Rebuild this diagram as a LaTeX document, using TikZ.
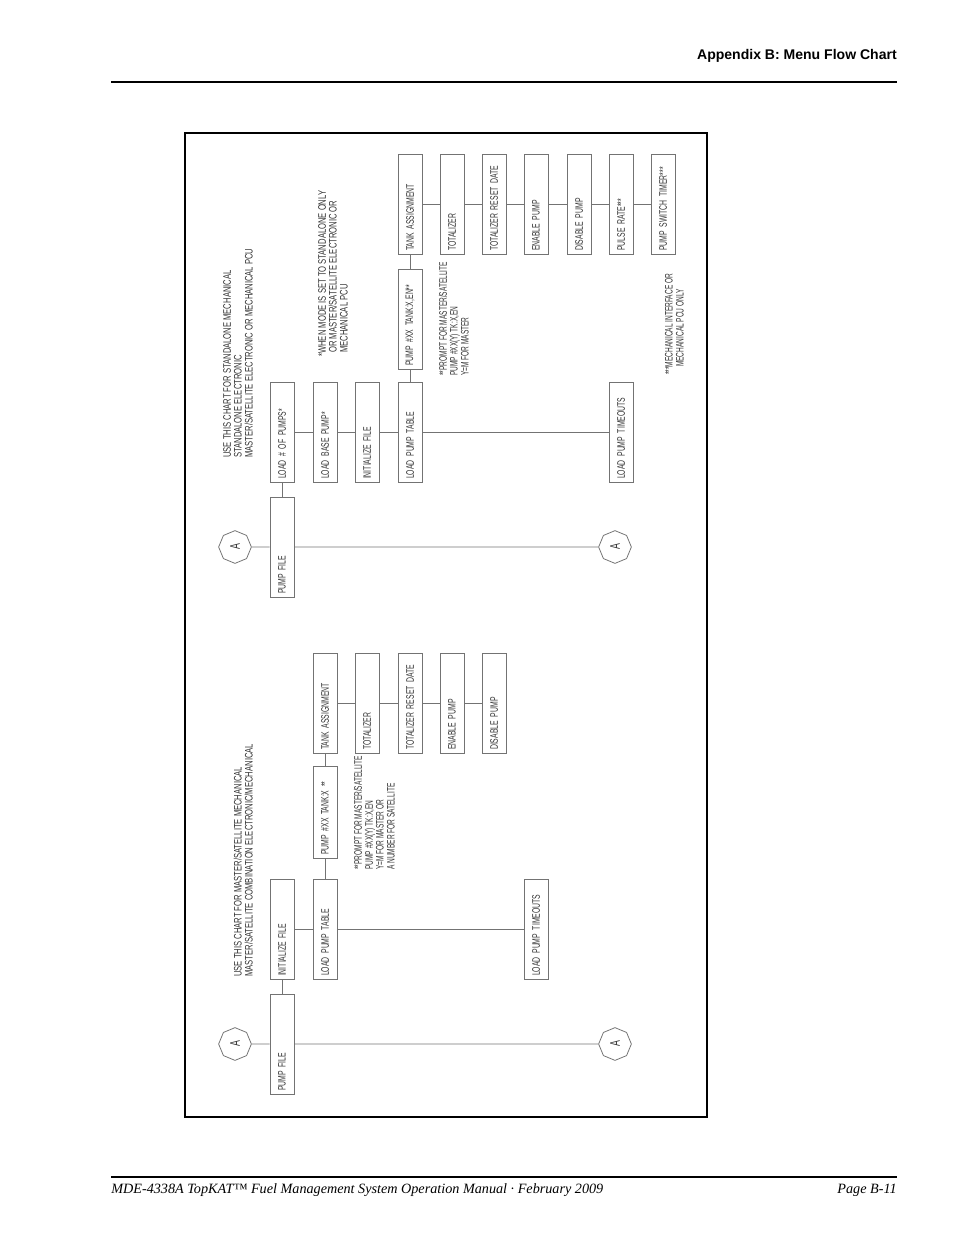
\documentclass[tikz,border=0pt]{standalone}
\usepackage{fontspec}
\usepackage{tikz}
\usetikzlibrary{shapes}
\setmainfont{Liberation Serif}
\newfontfamily\cadfont[FakeStretch=0.63]{Liberation Sans}
\newfontfamily\notefont[FakeStretch=0.7]{Liberation Sans}
\newfontfamily\smallnotefont[FakeStretch=0.6]{Liberation Sans}
\newfontfamily\headfont{Liberation Sans}

\begin{document}
\begin{tikzpicture}[x=0.6415pt,y=-0.6415pt]
	\tikzstyle{menu} = [draw=black!55, line width=0.5pt, rotate=90, minimum height=15.4pt, inner xsep=2pt, inner ysep=0pt, text width=60.2pt, align=left, text=black!80, font=\cadfont\fontsize{7}{8}\selectfont]
	\tikzstyle{short menu} = [menu, text width=55pt]
	\tikzstyle{marker} = [draw=black!55, line width=0.5pt, regular polygon, regular polygon sides=8, shape border rotate=22.5, minimum size=21pt, inner sep=0pt, rotate=90, text=black!80, font=\cadfont\fontsize{9}{9}\selectfont]
	\tikzstyle{note} = [rotate=90, anchor=south west, inner sep=0pt, align=left, text=black!80, font=\notefont\fontsize{7}{7}\selectfont]
	\tikzstyle{small note} = [note, font=\smallnotefont\fontsize{7}{7}\selectfont]
	\tikzstyle{link} = [-, draw=black!55, line width=0.5pt]

	\useasboundingbox (0,0) rectangle (954,1235);

	% page header, footer and frame
	\node[anchor=base east, inner sep=0pt, font=\headfont\bfseries\fontsize{9}{11}\selectfont] (title) at (897,59) {Appendix B: Menu Flow Chart};
	\draw[line width=0.8pt] (111,82) -- (897,82);
	\draw[line width=0.8pt] (111,1177) -- (897,1177);
	\node[anchor=base west, inner sep=0pt, font=\itshape\fontsize{9.1}{11}\selectfont] (manual) at (111,1193) {MDE-4338A TopKAT™ Fuel Management System Operation Manual · February 2009};
	\node[anchor=base east, inner sep=0pt, font=\itshape\fontsize{9.1}{11}\selectfont] (page) at (897,1193) {Page B-11};
	\draw[line width=1pt] (185,133) rectangle (707,1117);

	% standalone chart
	\node[marker] (sa) at (235,547) {A};
	\node[marker] (sb) at (615,547) {A};
	\node[menu] (spump) at (282,547) {PUMP FILE};
	\node[menu] (snum) at (282,432) {LOAD \# OF PUMPS*};
	\node[menu] (sbase) at (325,432) {LOAD BASE PUMP*};
	\node[menu] (sinit) at (367,432) {INITIALIZE FILE};
	\node[menu] (stable) at (410,432) {LOAD PUMP TABLE};
	\node[menu] (stimeout) at (621,432) {LOAD PUMP TIMEOUTS};
	\node[menu] (sprompt) at (410,319) {PUMP \#XX TANK:X,EN**};
	\node[menu] (stank) at (410,204) {TANK ASSIGNMENT};
	\node[menu] (stotal) at (452,204) {TOTALIZER};
	\node[menu] (sreset) at (494,204) {TOTALIZER RESET DATE};
	\node[menu] (senable) at (536,204) {ENABLE PUMP};
	\node[menu] (sdisable) at (579,204) {DISABLE PUMP};
	\node[menu] (spulse) at (621,204) {PULSE RATE***};
	\node[menu] (sswitch) at (663,204) {PUMP SWITCH TIMER***};

	\node[note] (snote1) at (253,458) {USE THIS CHART FOR STANDALONE MECHANICAL\\STANDALONE ELECTRONIC\\MASTER/SATELLITE ELECTRONIC OR MECHANICAL PCU};
	\node[note] (snote2) at (348,357) {*WHEN MODE IS SET TO STANDALONE ONLY\\\hspace*{2.5pt}OR MASTER/SATELLITE ELECTRONIC OR\\\hspace*{2.5pt}MECHANICAL PCU};
	\node[small note] (snote3) at (469,376) {**PROMPT FOR MASTER/SATELLITE\\PUMP \#XX(Y) TK:X,EN\\Y=M FOR MASTER};
	\node[small note] (snote4) at (684,375) {***MECHANICAL INTERFACE OR\\\hspace*{5pt}MECHANICAL PCU ONLY};

	\foreach \a/\b in {sa/spump, spump/sb, snum/spump, snum/sbase, sbase/sinit, sinit/stable, stable/stimeout, stable/sprompt, sprompt/stank, stank/stotal, stotal/sreset, sreset/senable, senable/sdisable, sdisable/spulse, spulse/sswitch}
		\draw[link] (\a) -- (\b);

	% master/satellite chart
	\node[marker] (ma) at (235,1044) {A};
	\node[marker] (mb) at (615,1044) {A};
	\node[menu] (mpump) at (282,1044) {PUMP FILE};
	\node[menu] (minit) at (282,929) {INITIALIZE FILE};
	\node[menu] (mtable) at (325,929) {LOAD PUMP TABLE};
	\node[menu] (mtimeout) at (536,929) {LOAD PUMP TIMEOUTS};
	\node[short menu] (mprompt) at (325,812) {PUMP \#XX TANK:X **};
	\node[menu] (mtank) at (325,703) {TANK ASSIGNMENT};
	\node[menu] (mtotal) at (367,703) {TOTALIZER};
	\node[menu] (mreset) at (410,703) {TOTALIZER RESET DATE};
	\node[menu] (menable) at (452,703) {ENABLE PUMP};
	\node[menu] (mdisable) at (494,703) {DISABLE PUMP};

	\node[note] (mnote1) at (253,977) {USE THIS CHART FOR MASTER/SATELLITE MECHANICAL\\MASTER/SATELLITE COMBINATION ELECTRONIC/MECHANICAL};
	\node[small note] (mnote2) at (395,870) {**PROMPT FOR MASTER/SATELLITE\\PUMP \#XX(Y) TK:X,EN\\Y=M FOR MASTER OR\\A NUMBER FOR SATELLITE};

	\foreach \a/\b in {ma/mpump, mpump/mb, minit/mpump, minit/mtable, mtable/mtimeout, mtable/mprompt, mprompt/mtank, mtank/mtotal, mtotal/mreset, mreset/menable, menable/mdisable}
		\draw[link] (\a) -- (\b);
\end{tikzpicture}
\end{document}
